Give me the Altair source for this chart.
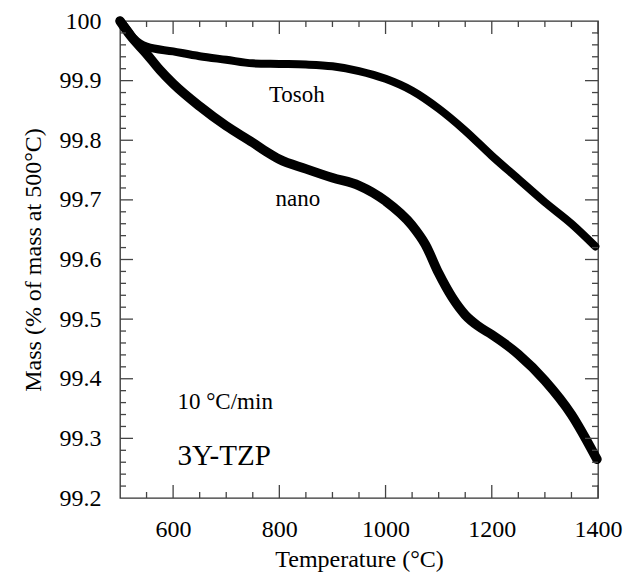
import altair as alt
import pandas as pd

# ---- data ----
tosoh_T = [500, 510, 525, 550, 600, 650, 700, 750, 800, 850, 900, 950, 1000,
           1050, 1100, 1150, 1200, 1250, 1300, 1350, 1395]
tosoh_M = [100.0, 99.99, 99.972, 99.957, 99.949, 99.941, 99.935, 99.929, 99.928,
           99.927, 99.924, 99.916, 99.903, 99.883, 99.853, 99.816, 99.774,
           99.735, 99.696, 99.66, 99.622]

nano_T = [500, 520, 550, 575, 600, 650, 700, 750, 775, 800, 850, 900, 950, 1000,
          1050, 1075, 1100, 1125, 1150, 1175, 1200, 1250, 1300, 1350, 1398]
nano_M = [100.0, 99.975, 99.945, 99.918, 99.895, 99.857, 99.824, 99.796, 99.781,
          99.768, 99.752, 99.737, 99.724, 99.698, 99.657, 99.625, 99.577, 99.537,
          99.507, 99.488, 99.474, 99.441, 99.397, 99.34, 99.265]

x_labels = [600, 800, 1000, 1200, 1400]
y_labels = [99.2, 99.3, 99.4, 99.5, 99.6, 99.7, 99.8, 99.9, 100.0]
x_major_ticks = [600, 800, 1000, 1200, 1400]
x_minor_ticks = [550, 650, 700, 750, 850, 900, 950, 1050, 1100, 1150, 1250, 1300, 1350]
y_major_ticks = [99.3, 99.4, 99.5, 99.6, 99.7, 99.8, 99.9]
y_minor_ticks = [round(99.2 + 0.02 * i, 2) for i in range(1, 40) if i % 5 != 0]

curve_labels = ["Tosoh", "nano", "10 °C/min"]
curve_label_T = [833, 835, 698]
curve_label_M = [99.864, 99.689, 99.349]
sample_label = ["3Y-TZP"]
sample_label_T = [696]
sample_label_M = [99.255]

# ---- build tables ----
curves = pd.concat([
    pd.DataFrame({"T": tosoh_T, "M": tosoh_M, "series": "Tosoh"}),
    pd.DataFrame({"T": nano_T, "M": nano_M, "series": "nano"}),
])

W, H = 478, 477
FONT = "Liberation Serif"
TICK_COLOR = "#444444"

xs = alt.Scale(domain=[500, 1400], nice=False, zero=False)
ys = alt.Scale(domain=[99.2, 100.0], nice=False, zero=False)

x_axis = alt.Axis(values=x_labels, title="Temperature (°C)", format="d")
y_axis = alt.Axis(values=y_labels, title="Mass (% of mass at 500°C)",
                  format=".3~r")

lines = alt.Chart(curves).mark_line(
    interpolate="monotone", color="black", strokeCap="round", strokeJoin="round"
).encode(
    x=alt.X("T:Q", scale=xs, axis=x_axis),
    y=alt.Y("M:Q", scale=ys, axis=y_axis),
    detail="series:N",
    strokeWidth=alt.StrokeWidth("series:N", scale=alt.Scale(
        domain=["Tosoh", "nano"], range=[8, 9.5]), legend=None),
)


def xticks(vals, length, top):
    df = pd.DataFrame({"T": vals})
    y0 = 0 if top else H
    y1 = length if top else H - length
    return alt.Chart(df).mark_rule(color=TICK_COLOR, strokeWidth=1.3).encode(
        x=alt.X("T:Q", scale=xs, axis=x_axis), y=alt.value(y0), y2=alt.value(y1))


def yticks(vals, length, right):
    df = pd.DataFrame({"M": vals})
    x0 = W if right else 0
    x1 = W - length if right else length
    return alt.Chart(df).mark_rule(color=TICK_COLOR, strokeWidth=1.3).encode(
        y=alt.Y("M:Q", scale=ys, axis=y_axis), x=alt.value(x0), x2=alt.value(x1))


ticks = [
    xticks(x_major_ticks, 13, False), xticks(x_minor_ticks, 6, False),
    xticks(x_major_ticks, 13, True), xticks(x_minor_ticks, 6, True),
    yticks(y_major_ticks, 13, False), yticks(y_minor_ticks, 6, False),
    yticks(y_major_ticks, 13, True), yticks(y_minor_ticks, 6, True),
]

ann1 = alt.Chart(pd.DataFrame({"T": curve_label_T, "M": curve_label_M,
                               "t": curve_labels})).mark_text(
    font=FONT, fontSize=23, color="black", align="center", baseline="alphabetic"
).encode(x=alt.X("T:Q", scale=xs, axis=x_axis),
         y=alt.Y("M:Q", scale=ys, axis=y_axis), text="t:N")

ann2 = alt.Chart(pd.DataFrame({"T": sample_label_T, "M": sample_label_M,
                               "t": sample_label})).mark_text(
    font=FONT, fontSize=29, color="black", align="center", baseline="alphabetic"
).encode(x=alt.X("T:Q", scale=xs, axis=x_axis),
         y=alt.Y("M:Q", scale=ys, axis=y_axis), text="t:N")

chart = alt.layer(lines, *ticks, ann1, ann2).properties(
    width=W, height=H,
    padding={"left": 120, "top": 21, "right": 26, "bottom": 84},
    autosize=alt.AutoSizeParams(type="none"),
    background="white",
).configure(
    font=FONT,
    view={"stroke": "#333333", "strokeWidth": 1.3},
    axis={"gridOpacity": 0, "domainOpacity": 0, "tickOpacity": 0,
          "labelFont": FONT, "labelFontSize": 24, "labelColor": "black",
          "labelFlush": False, "titleFont": FONT, "titleFontSize": 24,
          "titleFontWeight": "normal", "titleColor": "black"},
    axisX={"labelPadding": 14, "titlePadding": 6},
    axisY={"labelPadding": 14, "titlePadding": 14},
)

chart.save("out.html", embed_options={"renderer": "svg", "actions": False})
